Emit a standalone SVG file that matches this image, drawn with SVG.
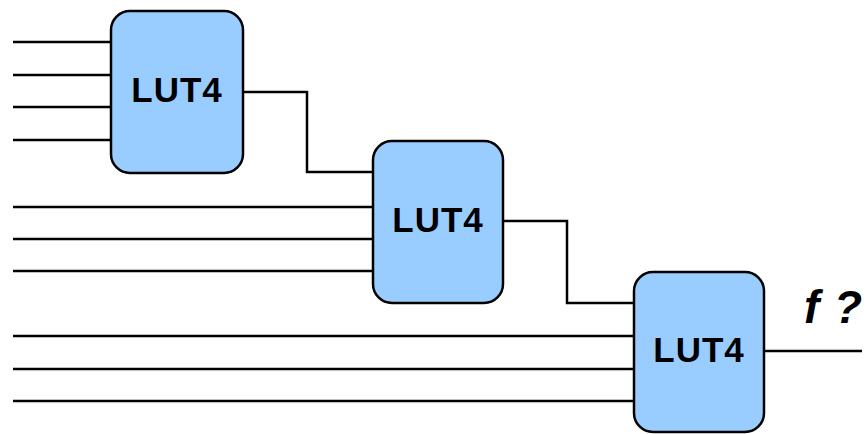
<svg xmlns="http://www.w3.org/2000/svg" width="867" height="434" viewBox="0 0 867 434">
  <style>
    .wire { fill: none; stroke: #000; stroke-width: 2.5; stroke-linejoin: miter; stroke-linecap: butt; }
    .lut rect { fill: #99ccff; stroke: #000; stroke-width: 2.5; }
    .lut text { font-family: "Liberation Sans", Arial, sans-serif; font-weight: bold; font-size: 35px; fill: #000; text-anchor: middle; letter-spacing: 1px; }
    .label { font-family: "Liberation Sans", Arial, sans-serif; font-weight: bold; font-style: italic; font-size: 46px; fill: #000; }
  </style>
  <rect width="867" height="434" fill="#fff"/>

  <!-- wires -->
  <g id="connectors">
    <!-- inputs of the first LUT -->
    <path class="wire" d="M13 42H111M13 75H111M13 107H111M13 140H111"/>
    <!-- first LUT output into second LUT -->
    <path class="wire" d="M243 92H307V172H373"/>
    <!-- remaining inputs of the second LUT -->
    <path class="wire" d="M13 207H373M13 239H373M13 271H373"/>
    <!-- second LUT output into third LUT -->
    <path class="wire" d="M503 221H567V303H634"/>
    <!-- remaining inputs of the third LUT -->
    <path class="wire" d="M13 336H634M13 369H634M13 401H634"/>
    <!-- final output -->
    <path class="wire" d="M764 351H862"/>
  </g>

  <g id="lut1" class="lut">
    <rect x="111" y="11" width="132" height="162" rx="19" ry="19"/>
    <text x="177" y="102">LUT4</text>
  </g>
  <g id="lut2" class="lut">
    <rect x="373" y="141" width="130" height="162" rx="19" ry="19"/>
    <text x="438" y="232">LUT4</text>
  </g>
  <g id="lut3" class="lut">
    <rect x="634" y="272" width="130" height="160" rx="19" ry="19"/>
    <text x="699" y="362">LUT4</text>
  </g>

  <text class="label" x="804" y="323" letter-spacing="1">f ?</text>
</svg>
